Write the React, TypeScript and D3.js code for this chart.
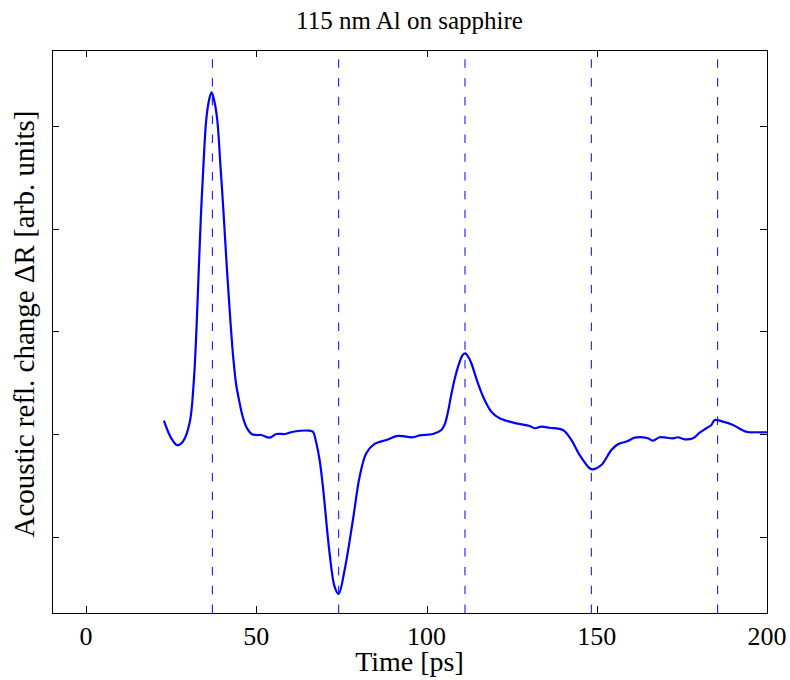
import React from "react";
import * as d3 from "d3";

const timePs = [
  22.86, 25.03, 26.79, 28.44, 30.41, 31.67, 32.4, 33.1, 33.7, 34.3, 35.3, 36.1, 36.87, 37.7, 38.54,
  39.5, 40.3, 41.3, 42.4, 43.3, 44.1, 45.0, 46.0, 47.2, 48.6, 50.0, 51.47, 53.91, 55.88, 58.31, 60.75,
  65.66, 66.63, 67.63, 68.6, 69.57, 71.53, 73.0, 74.17, 75.94, 78.38, 80.35, 82.31, 84.75, 88.19, 91.6,
  96.0, 97.97, 101.88, 104.35, 105.3, 106.2, 107.2, 108.3, 109.7, 110.6, 111.4, 112.3, 113.16, 115.1,
  117.07, 119.04, 121.47, 126.38, 130.29, 131.76, 133.72, 136.16, 140.07, 142.54, 144.98, 147.92,
  148.88, 151.35, 154.29, 156.23, 159.17, 161.13, 165.04, 166.51, 168.48, 172.39, 173.85, 175.82,
  178.26, 180.23, 182.2, 183.67, 184.64, 187.07, 190.01, 193.95, 196.89, 200.0,
];
const deltaR = [
  0.13, -0.042, -0.11, -0.075, 0.107, 0.526, 1.0, 1.6, 2.1, 2.5, 3.06, 3.25, 3.329, 3.24, 3.059,
  2.6, 2.2, 1.65, 1.1, 0.72, 0.48, 0.32, 0.17, 0.06, 0.0, -0.01, -0.01, -0.036, 0.0, 0.0, 0.022,
  0.032, 0.022, -0.088, -0.253, -0.513, -1.162, -1.488, -1.559, -1.325, -0.838, -0.416, -0.188, -0.097,
  -0.058, -0.019, -0.032, -0.013, 0.0, 0.039, 0.09, 0.2, 0.37, 0.54, 0.7, 0.77, 0.786, 0.75, 0.689,
  0.494, 0.331, 0.217, 0.153, 0.104, 0.078, 0.056, 0.071, 0.061, 0.039, -0.058, -0.205, -0.334,
  -0.344, -0.302, -0.156, -0.1, -0.068, -0.036, -0.042, -0.065, -0.032, -0.042, -0.032, -0.052,
  -0.042, 0.013, 0.056, 0.088, 0.136, 0.12, 0.088, 0.022, 0.017, 0.017,
];
const echoTimes = [37.1, 74.2, 111.3, 148.4, 185.5];
const xTicks = [0, 50, 100, 150, 200];
const xTickLabels = ["0", "50", "100", "150", "200"];
const yTicks = [-1, 0, 1, 2, 3];
const xDomain = [-10, 200];
const yDomain = [-1.744, 3.741];
const title = "115 nm Al on sapphire";
const xLabel = "Time [ps]";
const yLabel = "Acoustic refl. change \u0394R [arb. units]";

export default function App() {
  const W = 790, H = 680;
  const L = 52, R = 767, T = 50, B = 613;
  const x = d3.scaleLinear().domain(xDomain).range([L, R]);
  const y = d3.scaleLinear().domain(yDomain).range([B, T]);
  const pts: [number, number][] = timePs.map((t, i) => [t, deltaR[i]]);
  const line = d3
    .line<[number, number]>()
    .x((d) => x(d[0]))
    .y((d) => y(d[1]))
    .curve(d3.curveCatmullRom.alpha(0.5));
  const font = "'Liberation Serif', 'Times New Roman', serif";
  const tl = 7;
  return (
    <svg
      width={W}
      height={H}
      style={{ position: "absolute", left: 0, top: 0, background: "#fff" }}
      fontFamily={font}
    >
      <rect x={0} y={0} width={W} height={H} fill="#fff" />
      {echoTimes.map((t, i) => (
        <line
          key={"e" + i}
          x1={x(t)}
          x2={x(t)}
          y1={B}
          y2={T}
          stroke="#0000ff"
          strokeWidth={1}
          strokeDasharray="8.5,10.3"
        />
      ))}
      <path d={line(pts) || ""} fill="none" stroke="#0000ff" strokeWidth={2.2} strokeLinejoin="round" />
      {xTicks.map((t, i) => (
        <g key={"xt" + i}>
          <line x1={Math.round(x(t)) + 0.5} x2={Math.round(x(t)) + 0.5} y1={B} y2={B - tl} stroke="#000" strokeWidth={1} />
          <line x1={Math.round(x(t)) + 0.5} x2={Math.round(x(t)) + 0.5} y1={T} y2={T + tl} stroke="#000" strokeWidth={1} />
          <text x={x(t)} y={645} textAnchor="middle" fontSize={26} fill="#000">
            {xTickLabels[i]}
          </text>
        </g>
      ))}
      {yTicks.map((v, i) => (
        <g key={"yt" + i}>
          <line x1={L} x2={L + tl} y1={Math.round(y(v)) + 0.5} y2={Math.round(y(v)) + 0.5} stroke="#000" strokeWidth={1} />
          <line x1={R} x2={R - tl} y1={Math.round(y(v)) + 0.5} y2={Math.round(y(v)) + 0.5} stroke="#000" strokeWidth={1} />
        </g>
      ))}
      <rect x={L + 0.5} y={T + 0.5} width={R - L} height={B - T} fill="none" stroke="#000" strokeWidth={1} />
      <text x={(L + R) / 2} y={29} textAnchor="middle" fontSize={25} fill="#000">
        {title}
      </text>
      <text x={(L + R) / 2} y={671} textAnchor="middle" fontSize={28} fill="#000">
        {xLabel}
      </text>
      <text
        transform={`translate(34,324) rotate(-90)`}
        textAnchor="middle"
        fontSize={29}
        fill="#000"
      >
        {yLabel}
      </text>
    </svg>
  );
}
